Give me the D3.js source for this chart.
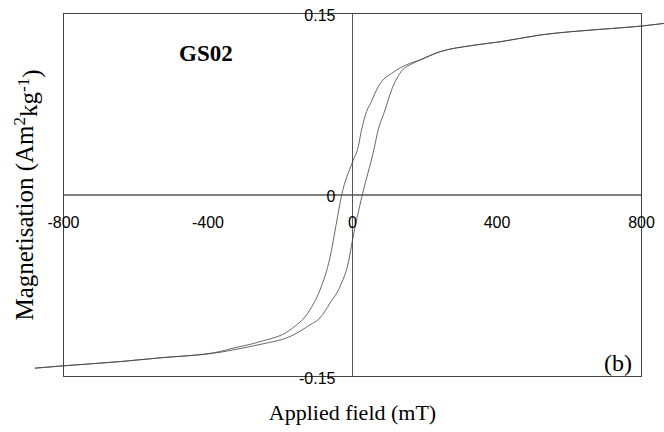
<!DOCTYPE html>
<html>
<head>
<meta charset="utf-8">
<script src="https://cdn.jsdelivr.net/npm/d3@7"></script>
<style>
  body { margin: 0; background: #fff; }
  svg { display: block; }
</style>
</head>
<body>
<script>
// hysteresis loop, field in mT, magnetisation in Am2/kg
var upperH = [-879, -801, -644, -533, -367, -339, -256, -173, -118, -90, -62, -46, -30, 0, 16, 25, 39, 53, 62, 80, 108, 159, 186, 242, 325, 408, 519, 685, 800, 862, 900];
var upperM = [-0.1431, -0.1412, -0.1377, -0.1346, -0.1294, -0.1272, -0.1212, -0.1115, -0.0950, -0.0785, -0.0512, -0.0256, 0, 0.0273, 0.0400, 0.0537, 0.0690, 0.0775, 0.0840, 0.0935, 0.1005, 0.1088, 0.1115, 0.1184, 0.1233, 0.1266, 0.1322, 0.1369, 0.1396, 0.1418, 0.1430];

var lowerH = [-879, -801, -644, -533, -367, -339, -256, -173, -118, -90, -62, -35, -10, 0, 27, 59, 71, 90, 108, 131, 167, 186, 242, 325, 408, 519, 685, 800, 862, 900];
var lowerM = [-0.1431, -0.1412, -0.1377, -0.1346, -0.1300, -0.1285, -0.1235, -0.1170, -0.1074, -0.1016, -0.0892, -0.0760, -0.0537, -0.0372, 0, 0.0372, 0.0537, 0.0702, 0.0867, 0.1005, 0.1088, 0.1115, 0.1184, 0.1233, 0.1266, 0.1322, 0.1369, 0.1396, 0.1418, 0.1430];

var xTicks = [-800, -400, 0, 400, 800];
var yTicks = [-0.15, 0, 0.15];
var yTickLabels = ["-0.15", "0", "0.15"];

var width = 664, height = 432;

var x = d3.scaleLinear().domain([-800, 800]).range([63.5, 641.5]);
var y = d3.scaleLinear().domain([-0.15, 0.15]).range([376.5, 13.5]);

var svg = d3.select("body").append("svg")
    .attr("width", width)
    .attr("height", height);

// plot frame
svg.append("rect")
    .attr("x", x(-800)).attr("y", y(0.15))
    .attr("width", x(800) - x(-800))
    .attr("height", y(-0.15) - y(0.15))
    .attr("fill", "none")
    .attr("stroke", "#444")
    .attr("stroke-width", 1);

// zero axes
svg.append("line")
    .attr("x1", x(-800)).attr("x2", x(800))
    .attr("y1", y(0)).attr("y2", y(0))
    .attr("stroke", "#000").attr("stroke-width", 1);
svg.append("line")
    .attr("x1", x(0)).attr("x2", x(0))
    .attr("y1", y(0.15)).attr("y2", y(-0.15))
    .attr("stroke", "#555").attr("stroke-width", 1);

// loop branches
var line = d3.line()
    .x(function(d) { return x(d[0]); })
    .y(function(d) { return y(d[1]); })
    .curve(d3.curveMonotoneX);

var upper = upperH.map(function(h, i) { return [h, upperM[i]]; });
var lower = lowerH.map(function(h, i) { return [h, lowerM[i]]; });

[upper, lower].forEach(function(branch) {
  svg.append("path")
      .datum(branch)
      .attr("d", line)
      .attr("fill", "none")
      .attr("stroke", "#444")
      .attr("stroke-opacity", 0.8)
      .attr("stroke-width", 1);
});

// tick labels
svg.selectAll(".xlab")
    .data(xTicks)
  .enter().append("text")
    .attr("x", function(d) { return x(d); })
    .attr("y", y(0) + 27)
    .attr("dy", "0.35em")
    .attr("text-anchor", "middle")
    .style("font-family", "Liberation Sans, Arial, sans-serif")
    .style("font-size", "16px")
    .text(function(d) { return d; });

svg.selectAll(".ylab")
    .data(yTicks)
  .enter().append("text")
    .attr("x", x(0) - 17)
    .attr("y", function(d) { return y(d) + 1.5; })
    .attr("dy", "0.35em")
    .attr("text-anchor", "end")
    .style("font-family", "Liberation Sans, Arial, sans-serif")
    .style("font-size", "16px")
    .text(function(d, i) { return yTickLabels[i]; });

// titles
var serif = "Liberation Serif, Times New Roman, serif";

svg.append("text")
    .attr("x", x(0))
    .attr("y", 420)
    .attr("text-anchor", "middle")
    .style("font-family", serif)
    .style("font-size", "22px")
    .text("Applied field (mT)");

var yt = svg.append("text")
    .attr("transform", "translate(33," + 195 + ") rotate(-90)")
    .attr("text-anchor", "middle")
    .style("font-family", serif)
    .style("font-size", "25px");
yt.append("tspan").text("Magnetisation (Am");
yt.append("tspan").attr("dy", "-0.45em").style("font-size", "17px").text("2");
yt.append("tspan").attr("dy", "0.45em").text("kg");
yt.append("tspan").attr("dy", "-0.45em").style("font-size", "17px").text("-1");
yt.append("tspan").attr("dy", "0.45em").text(")");

svg.append("text")
    .attr("x", 179)
    .attr("y", 61)
    .style("font-family", serif)
    .style("font-weight", "bold")
    .style("font-size", "23px")
    .text("GS02");

svg.append("text")
    .attr("x", 632)
    .attr("y", 371)
    .attr("text-anchor", "end")
    .style("font-family", serif)
    .style("font-size", "24px")
    .text("(b)");
</script>
</body>
</html>
